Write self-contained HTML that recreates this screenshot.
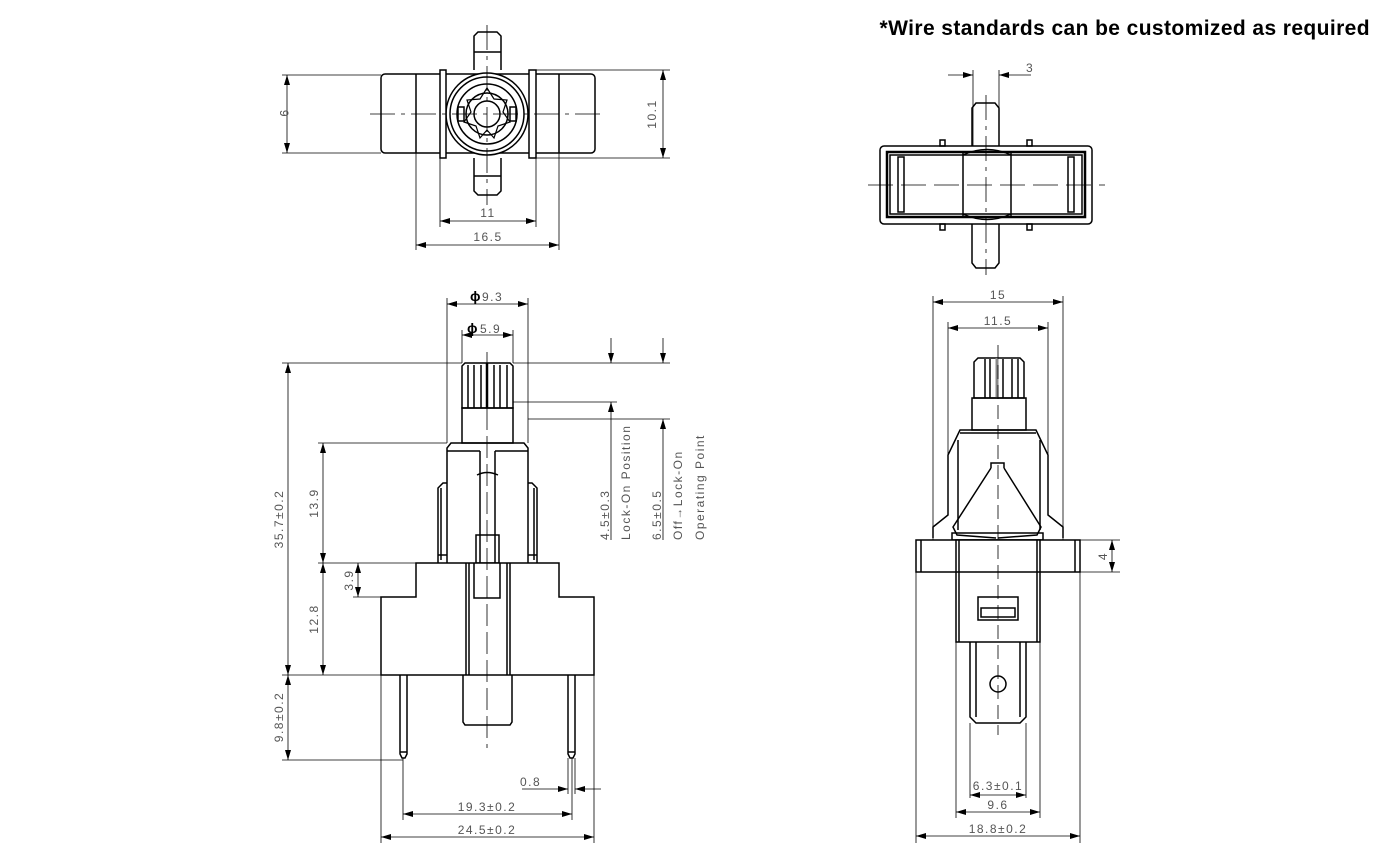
<!DOCTYPE html>
<html><head><meta charset="utf-8"><style>
html,body{margin:0;padding:0;background:#fff;}
svg{display:block;}
.t{font-family:"Liberation Sans Narrow","Liberation Sans",sans-serif;font-size:12px;fill:#555;letter-spacing:1.5px;}
</style></head><body>
<svg width="1390" height="863" viewBox="0 0 1390 863" xmlns="http://www.w3.org/2000/svg">
<defs>
<marker id="a" viewBox="0 0 10 6" refX="10" refY="3" markerWidth="10" markerHeight="6" orient="auto-start-reverse" markerUnits="userSpaceOnUse"><path d="M0,0L10,3L0,6z" fill="#000"/></marker>
</defs>
<text x="1370" y="35" text-anchor="end" font-family="Liberation Sans, sans-serif" font-weight="bold" font-size="21" letter-spacing="0.4" fill="#000">*Wire standards can be customized as required</text>

<!-- ===== TOP LEFT VIEW ===== -->
<g fill="none" stroke="#000" stroke-width="1.5">
<rect x="381" y="74" width="214" height="79" rx="4" fill="#fff"/>
<line x1="416" y1="74" x2="416" y2="153"/><line x1="559" y1="74" x2="559" y2="153"/>
<circle cx="487" cy="114" r="41" fill="#fff"/>
<circle cx="487" cy="114" r="37"/>
<circle cx="487" cy="114" r="30"/>
<circle cx="487" cy="114" r="21"/>
<circle cx="487" cy="114" r="13"/>
<polygon points="487,88 494,99 507,100 503,112 510,122 498,126 494,138 487,130 480,138 476,126 464,122 471,112 467,100 480,99" stroke-width="1.2"/>
<rect x="458" y="107" width="6" height="14"/><rect x="510" y="107" width="6" height="14"/>
<rect x="440" y="70" width="6" height="88" fill="#fff"/><rect x="529" y="70" width="7" height="88" fill="#fff"/>
<path d="M474,70 V36 l4,-4 h19 l4,4 V70" fill="#fff"/><line x1="474" y1="52" x2="501" y2="52"/>
<path d="M474,158 V191 l4,4 h19 l4,-4 V158" fill="#fff"/><line x1="474" y1="176" x2="501" y2="176"/>
</g>
<g stroke="#000" stroke-width="0.8" fill="none">
<line x1="370" y1="114" x2="605" y2="114" stroke-dasharray="25,6,4,6"/>
<line x1="487" y1="25" x2="487" y2="205" stroke-dasharray="25,6,4,6"/>
<line x1="282" y1="75" x2="381" y2="75"/><line x1="282" y1="153" x2="381" y2="153"/>
<line x1="287" y1="75" x2="287" y2="153" marker-start="url(#a)" marker-end="url(#a)"/>
<line x1="536" y1="70" x2="670" y2="70"/><line x1="536" y1="158" x2="670" y2="158"/>
<line x1="663" y1="70" x2="663" y2="158" marker-start="url(#a)" marker-end="url(#a)"/>
<line x1="440" y1="158" x2="440" y2="227"/><line x1="536" y1="158" x2="536" y2="227"/>
<line x1="440" y1="221" x2="536" y2="221" marker-start="url(#a)" marker-end="url(#a)"/>
<line x1="416" y1="153" x2="416" y2="250"/><line x1="559" y1="153" x2="559" y2="250"/>
<line x1="416" y1="245" x2="559" y2="245" marker-start="url(#a)" marker-end="url(#a)"/>
</g>
<text class="t" x="280" y="114" text-anchor="middle" transform="rotate(90 280 114)">9</text>
<text class="t" x="656" y="114" text-anchor="middle" transform="rotate(-90 656 114)">10.1</text>
<text class="t" x="488" y="217" text-anchor="middle">11</text>
<text class="t" x="488" y="241" text-anchor="middle">16.5</text>

<!-- ===== TOP RIGHT VIEW ===== -->
<g fill="none" stroke="#000" stroke-width="1.5">
<path d="M972,146 V108 l4,-5 h19 l4,5 V146" fill="#fff"/>
<path d="M972,224 V263 l4,5 h19 l4,-5 V224" fill="#fff"/>
<rect x="880" y="146" width="212" height="78" rx="4" fill="#fff"/>
<rect x="887" y="152" width="198" height="65" stroke-width="2.5"/>
<rect x="890" y="155" width="192" height="59"/>
<rect x="963" y="152" width="48" height="65"/>
<path d="M963,155 Q987,144 1011,155"/><path d="M963,214 Q987,225 1011,214"/>
<rect x="898" y="157" width="6" height="55"/><rect x="1068" y="157" width="6" height="55"/>
<rect x="940" y="140" width="5" height="6"/><rect x="1027" y="140" width="5" height="6"/>
<rect x="940" y="224" width="5" height="6"/><rect x="1027" y="224" width="5" height="6"/>
</g>
<g stroke="#000" stroke-width="0.8" fill="none">
<line x1="868" y1="185" x2="1105" y2="185" stroke-dasharray="25,8"/>
<line x1="986" y1="95" x2="986" y2="275" stroke-dasharray="25,6,4,6"/>
<line x1="973" y1="70" x2="973" y2="146"/><line x1="999" y1="70" x2="999" y2="146"/>
<line x1="948" y1="75" x2="973" y2="75" marker-end="url(#a)"/>
<line x1="1031" y1="75" x2="999" y2="75" marker-end="url(#a)"/>
</g>
<text class="t" x="1026" y="72">3</text>

<!-- ===== FRONT VIEW (bottom left) ===== -->
<g fill="none" stroke="#000" stroke-width="1.5">
<path d="M462,408 V366 l3,-3 h45 l3,3 V408 Z" fill="#fff"/>
<line x1="468" y1="365" x2="468" y2="408"/><line x1="474" y1="365" x2="474" y2="408"/><line x1="481" y1="365" x2="481" y2="408"/><line x1="487" y1="363" x2="487" y2="408" stroke-width="2.5"/><line x1="494" y1="365" x2="494" y2="408"/><line x1="500" y1="365" x2="500" y2="408"/><line x1="507" y1="365" x2="507" y2="408"/>
<rect x="462" y="408" width="51" height="35"/>
<path d="M447,563 V448 l4,-5 h73 l4,5 V563"/>
<line x1="447" y1="451" x2="480" y2="451"/><line x1="495" y1="451" x2="528" y2="451"/>
<path d="M480,451 V563 M495,451 V563"/>
<path d="M477,475 Q487,470 498,475"/>
<path d="M438,563 V488 l5,-5 h4 M528,483 h4 l5,5 V563"/>
<line x1="441" y1="488" x2="441" y2="560"/><line x1="534" y1="488" x2="534" y2="560"/>
<line x1="438" y1="555" x2="447" y2="555"/><line x1="528" y1="555" x2="537" y2="555"/>
<rect x="476" y="535" width="23" height="28"/>
<path d="M416,563 H559 V597 H594 V675 H381 V597 H416 Z" fill="#fff"/>
<line x1="466" y1="563" x2="466" y2="675"/><line x1="469" y1="563" x2="469" y2="675"/>
<line x1="507" y1="563" x2="507" y2="675"/><line x1="510" y1="563" x2="510" y2="675"/>
<path d="M474,563 V598 H500 V563"/>
<path d="M463,675 V722 l2,3 h45 l2,-3 V675"/>
<path d="M400,675 V754 l2,4 h3 l2,-4 V675"/><line x1="400" y1="752" x2="407" y2="752"/>
<path d="M568,675 V754 l2,4 h3 l2,-4 V675"/><line x1="568" y1="752" x2="575" y2="752"/>
</g>
<g stroke="#000" stroke-width="0.8" fill="none">
<line x1="487" y1="352" x2="487" y2="748" stroke-dasharray="22,6"/>
<line x1="447" y1="298" x2="447" y2="443"/><line x1="528" y1="298" x2="528" y2="443"/>
<line x1="447" y1="304" x2="528" y2="304" marker-start="url(#a)" marker-end="url(#a)"/>
<line x1="462" y1="330" x2="462" y2="363"/><line x1="513" y1="330" x2="513" y2="363"/>
<line x1="462" y1="335" x2="513" y2="335" marker-start="url(#a)" marker-end="url(#a)"/>
<line x1="282" y1="363" x2="462" y2="363"/>
<line x1="288" y1="363" x2="288" y2="675" marker-start="url(#a)" marker-end="url(#a)"/>
<line x1="318" y1="443" x2="447" y2="443"/>
<line x1="323" y1="443" x2="323" y2="563" marker-start="url(#a)" marker-end="url(#a)"/>
<line x1="318" y1="563" x2="416" y2="563"/>
<line x1="323" y1="563" x2="323" y2="675" marker-start="url(#a)" marker-end="url(#a)"/>
<line x1="353" y1="597" x2="381" y2="597"/>
<line x1="358" y1="563" x2="358" y2="597" marker-start="url(#a)" marker-end="url(#a)"/>
<line x1="282" y1="675" x2="381" y2="675"/>
<line x1="282" y1="760" x2="403" y2="760"/>
<line x1="288" y1="675" x2="288" y2="760" marker-start="url(#a)" marker-end="url(#a)"/>
<line x1="513" y1="363" x2="670" y2="363"/>
<line x1="513" y1="402" x2="617" y2="402"/>
<line x1="528" y1="419" x2="670" y2="419"/>
<line x1="611" y1="338" x2="611" y2="363" marker-end="url(#a)"/>
<line x1="611" y1="540" x2="611" y2="402" marker-end="url(#a)"/>
<line x1="663" y1="338" x2="663" y2="363" marker-end="url(#a)"/>
<line x1="663" y1="540" x2="663" y2="419" marker-end="url(#a)"/>
<line x1="381" y1="675" x2="381" y2="843"/><line x1="594" y1="675" x2="594" y2="843"/>
<line x1="403" y1="758" x2="403" y2="820"/><line x1="572" y1="758" x2="572" y2="820"/>
<line x1="568" y1="758" x2="568" y2="794"/><line x1="575" y1="758" x2="575" y2="794"/>
<line x1="522" y1="789" x2="568" y2="789" marker-end="url(#a)"/>
<line x1="601" y1="789" x2="575" y2="789" marker-end="url(#a)"/>
<line x1="403" y1="814" x2="572" y2="814" marker-start="url(#a)" marker-end="url(#a)"/>
<line x1="381" y1="837" x2="594" y2="837" marker-start="url(#a)" marker-end="url(#a)"/>
</g>
<text x="470" y="301" font-family="Liberation Sans,sans-serif" font-weight="bold" font-size="14">ϕ</text><text class="t" x="482" y="301">9.3</text>
<text x="467" y="333" font-family="Liberation Sans,sans-serif" font-weight="bold" font-size="14">ϕ</text><text class="t" x="480" y="333">5.9</text>
<text class="t" x="283" y="519" text-anchor="middle" transform="rotate(-90 283 519)">35.7±0.2</text>
<text class="t" x="318" y="503" text-anchor="middle" transform="rotate(-90 318 503)">13.9</text>
<text class="t" x="318" y="619" text-anchor="middle" transform="rotate(-90 318 619)">12.8</text>
<text class="t" x="353" y="580" text-anchor="middle" transform="rotate(-90 353 580)">3.9</text>
<text class="t" x="283" y="717" text-anchor="middle" transform="rotate(-90 283 717)">9.8±0.2</text>
<text class="t" x="609" y="540" transform="rotate(-90 609 540)">4.5±0.3</text>
<text class="t" x="630" y="540" transform="rotate(-90 630 540)">Lock-On Position</text>
<text class="t" x="661" y="540" transform="rotate(-90 661 540)">6.5±0.5</text>
<text class="t" x="682" y="540" transform="rotate(-90 682 540)">Off→Lock-On</text>
<text class="t" x="704" y="540" transform="rotate(-90 704 540)">Operating Point</text>
<text class="t" x="520" y="786">0.8</text>
<text class="t" x="487" y="811" text-anchor="middle">19.3±0.2</text>
<text class="t" x="487" y="834" text-anchor="middle">24.5±0.2</text>

<!-- ===== SIDE VIEW (bottom right) ===== -->
<g fill="none" stroke="#000" stroke-width="1.5">
<path d="M974,398 V362 l4,-4 h42 l4,4 V398 Z" fill="#fff"/>
<line x1="985" y1="359" x2="985" y2="398"/><line x1="990" y1="359" x2="990" y2="398"/><line x1="997" y1="358" x2="997" y2="398" stroke="#888" stroke-width="3"/><line x1="1003" y1="359" x2="1003" y2="398"/><line x1="1012" y1="359" x2="1012" y2="398"/><line x1="1018" y1="359" x2="1018" y2="398"/>
<rect x="972" y="398" width="54" height="32"/>
<path d="M933,538 V527 l15,-12 V455 l12,-25 H1036 l12,25 V515 l15,12 V538"/>
<line x1="960" y1="433" x2="1036" y2="433"/>
<path d="M958,530 V440 M1040,530 V440"/>
<path d="M991,468 V463 h13 v5 M991,468 L953,527 l4,8 l39,3 M1004,468 L1041,527 l-4,8 l-39,3"/>
<rect x="952" y="533" width="91" height="7"/>
<rect x="916" y="540" width="164" height="32" fill="#fff"/>
<line x1="921" y1="540" x2="921" y2="572"/><line x1="1075" y1="540" x2="1075" y2="572"/>
<rect x="956" y="540" width="84" height="102" fill="#fff"/>
<line x1="959" y1="540" x2="959" y2="642"/><line x1="1037" y1="540" x2="1037" y2="642"/>
<line x1="956" y1="572" x2="1040" y2="572"/>
<rect x="978" y="597" width="40" height="23"/><rect x="981" y="608" width="34" height="9"/>
<path d="M970,642 V717 l6,6 h44 l6,-6 V642"/>
<line x1="976" y1="642" x2="976" y2="717"/><line x1="1020" y1="642" x2="1020" y2="717"/>
<circle cx="998" cy="684" r="8"/>
</g>
<g stroke="#000" stroke-width="0.8" fill="none">
<line x1="998" y1="345" x2="998" y2="735" stroke-dasharray="14,6"/>
<line x1="933" y1="296" x2="933" y2="540"/><line x1="1063" y1="296" x2="1063" y2="540"/>
<line x1="933" y1="302" x2="1063" y2="302" marker-start="url(#a)" marker-end="url(#a)"/>
<line x1="948" y1="322" x2="948" y2="455"/><line x1="1048" y1="322" x2="1048" y2="455"/>
<line x1="948" y1="328" x2="1048" y2="328" marker-start="url(#a)" marker-end="url(#a)"/>
<line x1="1080" y1="540" x2="1120" y2="540"/><line x1="1080" y1="572" x2="1120" y2="572"/>
<line x1="1112" y1="540" x2="1112" y2="572" marker-start="url(#a)" marker-end="url(#a)"/>
<line x1="970" y1="723" x2="970" y2="798"/><line x1="1026" y1="723" x2="1026" y2="798"/>
<line x1="970" y1="795" x2="1026" y2="795" marker-start="url(#a)" marker-end="url(#a)"/>
<line x1="956" y1="642" x2="956" y2="818"/><line x1="1040" y1="642" x2="1040" y2="818"/>
<line x1="956" y1="812" x2="1040" y2="812" marker-start="url(#a)" marker-end="url(#a)"/>
<line x1="916" y1="572" x2="916" y2="843"/><line x1="1080" y1="572" x2="1080" y2="843"/>
<line x1="916" y1="836" x2="1080" y2="836" marker-start="url(#a)" marker-end="url(#a)"/>
</g>
<text class="t" x="998" y="299" text-anchor="middle">15</text>
<text class="t" x="998" y="325" text-anchor="middle">11.5</text>
<text class="t" x="1107" y="556" text-anchor="middle" transform="rotate(-90 1107 556)">4</text>
<text class="t" x="998" y="790" text-anchor="middle">6.3±0.1</text>
<text class="t" x="998" y="809" text-anchor="middle">9.6</text>
<text class="t" x="998" y="833" text-anchor="middle">18.8±0.2</text>
</svg>
</body></html>
